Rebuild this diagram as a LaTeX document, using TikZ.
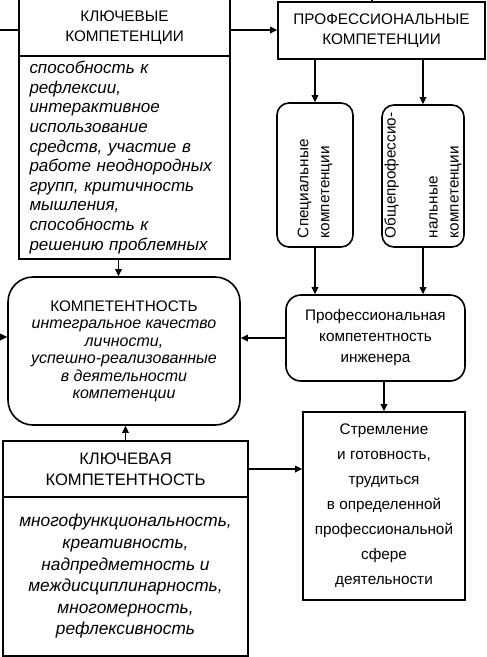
\documentclass[tikz,border=0pt]{standalone}
\usepackage{fontspec}
\setmainfont{Liberation Sans}
\usetikzlibrary{arrows.meta}
\tikzset{
    headbox/.style = {rectangle, line width=1.6pt, draw=black, align=center, inner sep=0pt, font=\fontsize{15.3}{20}\selectfont},
    bodybox/.style = {rectangle, line width=1.6pt, draw=black, inner sep=0pt},
    roundbox/.style = {rectangle, rounded corners=#1, line width=1.6pt, draw=black, align=center, inner sep=0pt},
    roundbox/.default = 12pt,
    rotbox/.style = {rectangle, rounded corners=12pt, line width=1.6pt, draw=black, rotate=90, align=left, inner sep=0pt, font=\fontsize{15.3}{21}\selectfont},
    edgen/.style = {-{Triangle[length=7pt,width=6.5pt]}, line width=1.7pt},
    edgel/.style = {line width=1.7pt}, % no tip
}

\begin{document}
\begin{tikzpicture}[x=1pt,y=-1pt]
\useasboundingbox (0,0) rectangle (487,657);

\node[headbox, minimum width=211pt, minimum height=57pt] at (124.5, 27.5) (kkh) {КЛЮЧЕВЫЕ\\КОМПЕТЕНЦИИ};
\node[bodybox, minimum width=211pt, minimum height=203pt, text width=190pt, align=left, font=\itshape\fontsize{17}{19.6}\selectfont] at (124.5,157.5) (kkb) {способность к\\рефлексии,\\интерактивное\\использование\\средств, участие в\\работе неоднородных\\групп, критичность\\мышления,\\способность к\\решению проблемных};
\node[headbox, minimum width=207pt, minimum height=57pt] at (381.5, 30.5) (pkh) {ПРОФЕССИОНАЛЬНЫЕ\\КОМПЕТЕНЦИИ};

\node[rotbox, minimum width=144pt, minimum height=76pt, text width=126pt] at (315,175) (spec) {Специальные\\компетенции};
\node[rotbox, minimum width=142pt, minimum height=82pt, text width=124pt] at (423,176) (obsh) {Общепрофессио-\\нальные\\компетенции};

\node[roundbox=25pt, minimum width=232pt, minimum height=148pt, font=\itshape\fontsize{16}{17.5}\selectfont] at (124,351) (komp) {{\upshape\fontsize{15.3}{17.5}\selectfont КОМПЕТЕНТНОСТЬ}\\интегральное качество\\личности,\\успешно-реализованные\\в деятельности\\компетенции};
\node[roundbox=15pt, minimum width=179pt, minimum height=86pt, font=\fontsize{15.3}{21}\selectfont] at (375.5,338) (prof) {Профессиональная\\компетентность\\инженера};

\node[bodybox, minimum width=162pt, minimum height=188pt, align=center, font=\fontsize{15.3}{25}\selectfont] at (384,506) (strem) {Стремление\\и готовность,\\трудиться\\в определенной\\профессиональной\\сфере\\деятельности};

\node[headbox, minimum width=245pt, minimum height=56pt, font=\fontsize{16.6}{21}\selectfont] at (125.5,469) (kk2h) {КЛЮЧЕВАЯ\\КОМПЕТЕНТНОСТЬ};
\node[bodybox, minimum width=245pt, minimum height=159pt, align=center, font=\itshape\fontsize{17.3}{21.6}\selectfont] at (125.5,576.5) (kk2b) {многофункциональность,\\креативность,\\надпредметность и\\междисциплинарность,\\многомерность,\\рефлексивность};

\coordinate (inA) at (0,30);
\coordinate (inB) at (372,0);
\coordinate (inC) at (0,337);

\draw[edgel] (inA) -- (inA -| kkh.west);
\draw[edgen] (inA -| kkh.east) -- (inA -| pkh.west);
\draw[edgel] (inB |- pkh.north) -- (inB);
\draw[edgen] (spec.east |- pkh.south) -- (spec.east);
\draw[edgen] (obsh.east |- pkh.south) -- (obsh.east);
\draw[edgen] (spec.west) -- (spec.west |- prof.north);
\draw[edgen] (obsh.west) -- (obsh.west |- prof.north);
\draw[edgen] ([xshift=-6pt]kkb.south) -- ([xshift=-6pt]kkb.south |- komp.north);
\draw[edgen] (prof.west) -- (prof.west -| komp.east);
\draw[edgen] (inC) -- (inC -| komp.west);
\draw[edgen] (strem.north |- prof.south) -- (strem.north);
\draw[edgen] (kk2h.north) -- (kk2h.north |- komp.south);
\draw[edgen] (kk2h.east) -- (kk2h.east -| strem.west);

\end{tikzpicture}
\end{document}
